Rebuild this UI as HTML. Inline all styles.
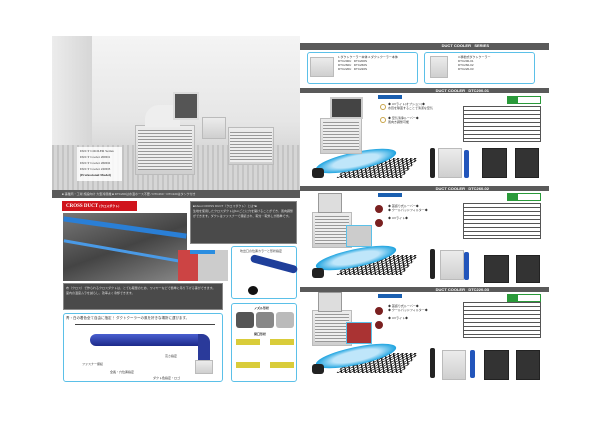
<!DOCTYPE html>
<html><head><meta charset="utf-8"><style>
*{margin:0;padding:0;box-sizing:border-box}
body{width:600px;height:424px;background:#fff;position:relative;overflow:hidden;font-family:"Liberation Sans","Noto Sans CJK JP",sans-serif}
div{position:absolute}
.bar{background:#5a5a5a;color:#fff;font-size:4px;font-weight:bold;text-align:right;padding-right:60px;line-height:6px}
.tb{background:#4a4a4a;color:#ddd;font-size:3px;line-height:5px;padding:2px;border:1px solid #888}
.bb{border:1px solid #5bc0e8;border-radius:3px;background:#fff}
.tx{font-size:3px;color:#333;line-height:4px}
.cool{background:linear-gradient(#ececec,#cfcfcf);border:1px solid #bbb}
.grill{background:repeating-linear-gradient(#999 0 1px,#eee 1px 3px)}
.tbl{background:repeating-linear-gradient(#fff 0 3px,#555 3px 4px);border:1px solid #555}
.grid{background:repeating-linear-gradient(45deg,#222 0 1px,transparent 1px 3px),repeating-linear-gradient(-45deg,#222 0 1px,#fff 1px 3px);transform:skewX(-40deg)}
.spray{background:radial-gradient(ellipse at 50% 50%,#bfe6fa 0 40%,#1fa4e0 70%);border-radius:50%;transform:rotate(-12deg)}
</style></head><body>
<!-- left photo -->
<div style="left:52px;top:36px;width:248px;height:154px;background:linear-gradient(180deg,#f4f4f4 0%,#e6e6e6 55%,#c4c4c4 100%)"></div>
<div style="left:52px;top:36px;width:40px;height:154px;background:linear-gradient(90deg,#ececec,#d6d6d6)"></div>
<div style="left:52px;top:145px;width:248px;height:45px;background:repeating-linear-gradient(90deg,#c4c4c4 0 2px,#d6d6d6 2px 5px)"></div>
<div class="cool" style="left:135px;top:125px;width:60px;height:50px"></div>
<div class="grill" style="left:138px;top:130px;width:54px;height:40px"></div>
<div style="left:145px;top:105px;width:35px;height:22px;background:#eee;border-radius:14px 0 0 0"></div>
<div style="left:173px;top:92px;width:26px;height:28px;background:#555;border:2px solid #ddd"></div>
<div class="cool" style="left:228px;top:127px;width:46px;height:38px"></div>
<div class="grill" style="left:230px;top:132px;width:42px;height:30px"></div>
<div class="cool" style="left:202px;top:117px;width:24px;height:22px"></div>
<div style="left:77px;top:147px;width:45px;height:34px;background:rgba(255,255,255,.85);font-family:'Liberation Serif',serif;font-size:3.5px;line-height:6px;padding:1px 3px;color:#333">DUCT COOLER Series<br>DUCT Cooler 200D1<br>DUCT Cooler 260D2<br>DUCT Cooler 220D3<br><b>(Professional Model)</b></div>
<div style="left:52px;top:190px;width:248px;height:8px;background:#5a5a5a;color:#ddd;font-size:3px;line-height:8px;padding-left:10px">■ 事業所・工場 施設向け 大型冷風機 ■ DTC200は水温ホース不要 / DTC260・DTC220はタンク付き</div>
<!-- cross duct -->
<div style="left:62px;top:201px;width:75px;height:10px;background:#d0141c;color:#fff;font-family:'Liberation Serif',serif;font-size:5px;font-weight:bold;line-height:10px;padding-left:4px">CROSS DUCT <span style="font-size:3px">(クロスダクト)</span></div>
<div style="left:63px;top:213px;width:124px;height:68px;background:linear-gradient(160deg,#777,#444 50%,#888)"></div>
<div style="left:63px;top:225px;width:124px;height:5px;background:#2a7fd6;transform:rotate(8deg)"></div>
<div style="left:63px;top:250px;width:124px;height:3px;background:#4a9ae6;transform:rotate(10deg)"></div>
<div class="tb" style="left:190px;top:201px;width:107px;height:43px">■About CROSS DUCT（クロスダクト）とは?■<br>生地を使用したクロスダクトは1mごとに穴を開けることができ、風向調整ができます。ダクトはファスナーで接続され、取付・取外しが簡単です。</div>
<div style="left:178px;top:250px;width:50px;height:31px;background:linear-gradient(90deg,#c44 0 40%,#ccc 40%)"></div>
<div style="left:190px;top:250px;width:25px;height:4px;background:#2a8de0"></div>
<div class="tb" style="left:63px;top:283px;width:160px;height:27px">布（クロス）で作られるクロスダクトは、とても軽量のため、ワイヤーなどで簡単に吊り下げる事ができます。<br>室内の温度ムラを減らし、効率よく冷却できます。</div>
<div class="bb" style="left:63px;top:313px;width:160px;height:69px"></div>
<div class="tx" style="left:66px;top:316px;font-size:3.5px">青・白の着色全て自由に指定！ ダクトクーラーの風を好きな場所に運びます。</div>
<div style="left:75px;top:324px;width:140px;height:1px;background:#444"></div>
<div style="left:90px;top:334px;width:115px;height:12px;background:linear-gradient(#4a5fd0,#1c2a8a);border-radius:6px"></div>
<div style="left:198px;top:334px;width:12px;height:28px;background:#2a3a9a;border-radius:0 8px 0 0"></div>
<div class="cool" style="left:195px;top:360px;width:18px;height:14px"></div>
<div class="tx" style="left:82px;top:362px">ファスナー接続</div>
<div class="tx" style="left:110px;top:370px">全長・穴位置指定</div>
<div class="tx" style="left:153px;top:376px">ダクト色指定・ロゴ</div>
<div class="tx" style="left:165px;top:354px">高さ指定</div>
<div class="bb" style="left:231px;top:246px;width:66px;height:53px"></div>
<div class="tx" style="left:240px;top:249px">吹出口の位置カラーと形状指定</div>
<div style="left:250px;top:260px;width:48px;height:8px;background:#1f3f9a;border-radius:4px;transform:rotate(15deg)"></div>
<div style="left:248px;top:286px;width:10px;height:9px;background:#111;border-radius:50%"></div>
<div class="bb" style="left:231px;top:303px;width:66px;height:79px"></div>
<div class="tx" style="left:254px;top:306px;font-weight:bold">ノズル形状</div>
<div style="left:236px;top:312px;width:18px;height:16px;background:#555;border-radius:3px"></div>
<div style="left:256px;top:312px;width:18px;height:16px;background:#888;border-radius:3px"></div>
<div style="left:276px;top:312px;width:18px;height:16px;background:#bbb;border-radius:3px"></div>
<div class="tx" style="left:254px;top:332px;font-weight:bold">開口形状</div>
<div style="left:236px;top:339px;width:24px;height:6px;background:#d9cc3a"></div>
<div style="left:270px;top:339px;width:24px;height:6px;background:#d9cc3a"></div>
<div style="left:236px;top:362px;width:24px;height:6px;background:#d9cc3a"></div>
<div style="left:270px;top:362px;width:24px;height:6px;background:#d9cc3a"></div>
<!-- right page -->
<div class="bar" style="left:300px;top:43px;width:249px;height:7px">DUCT COOLER &nbsp; SERIES</div>
<div class="bb" style="left:307px;top:52px;width:111px;height:32px"></div>
<div class="cool" style="left:310px;top:57px;width:24px;height:20px"></div>
<div class="tx" style="left:338px;top:55px">1.ダクトクーラー本体 2.ダクトクーラー本体<br>DTC200U &nbsp; DTC200S<br>DTC260U &nbsp; DTC260S<br>DTC220U &nbsp; DTC220S</div>
<div class="bb" style="left:424px;top:52px;width:111px;height:32px"></div>
<div class="cool" style="left:430px;top:56px;width:18px;height:22px"></div>
<div class="tx" style="left:458px;top:55px">3.移動式ダクトクーラー<br>DTC200-01<br>DTC260-02<br>DTC220-03</div>
<div class="bar" style="left:300px;top:88px;width:249px;height:5px;line-height:5px">DUCT COOLER &nbsp; DTC200-01</div>
<div class="bar" style="left:300px;top:186px;width:249px;height:5px;line-height:5px">DUCT COOLER &nbsp; DTC260-02</div>
<div class="bar" style="left:300px;top:287px;width:249px;height:5px;line-height:5px">DUCT COOLER &nbsp; DTC220-03</div>
<!-- sections: grids & sprays -->
<div class="grid" style="left:345px;top:158px;width:65px;height:20px"></div>
<div class="grid" style="left:345px;top:255px;width:65px;height:20px"></div>
<div class="grid" style="left:345px;top:353px;width:65px;height:20px"></div>
<div class="spray" style="left:315px;top:152px;width:82px;height:18px"></div>
<div class="spray" style="left:315px;top:249px;width:82px;height:18px"></div>
<div class="spray" style="left:315px;top:347px;width:82px;height:18px"></div>
<div class="cool" style="left:320px;top:118px;width:42px;height:36px"></div><div class="grill" style="left:323px;top:122px;width:36px;height:28px"></div>
<div style="left:330px;top:97px;width:33px;height:22px;background:#444;border:2px solid #ccc"></div>
<div class="cool" style="left:312px;top:212px;width:40px;height:36px"></div><div class="grill" style="left:315px;top:216px;width:34px;height:28px"></div>
<div style="left:318px;top:193px;width:24px;height:20px;background:#ddd;border:1px solid #999"></div>
<div class="cool" style="left:312px;top:310px;width:40px;height:36px"></div><div class="grill" style="left:315px;top:314px;width:34px;height:28px"></div>
<div style="left:318px;top:292px;width:24px;height:20px;background:#ddd;border:1px solid #999"></div>
<div style="left:346px;top:225px;width:26px;height:22px;border:1px solid #5bc0e8;background:#ccc"></div>
<div style="left:346px;top:322px;width:26px;height:22px;border:1px solid #5bc0e8;background:#a33"></div>
<div style="left:378px;top:95px;width:24px;height:4px;background:#1a5fb0"></div>
<div style="left:378px;top:193px;width:24px;height:4px;background:#1a5fb0"></div>
<div style="left:378px;top:294px;width:24px;height:4px;background:#1a5fb0"></div>
<div class="tx" style="left:388px;top:102px">◆ UVライト(オプション)◆<br>水質を除菌することで清潔な空気</div>
<div class="tx" style="left:388px;top:116px">◆ 空気清浄ルーバー◆<br>風向き調整可能</div>
<div class="tx" style="left:388px;top:204px">◆ 首振り式ルーバー◆<br>◆ クールパッドフィルター◆<br><br>◆ UVライト◆</div>
<div class="tx" style="left:388px;top:304px">◆ 首振り式ルーバー◆<br>◆ クールパッドフィルター◆<br><br>◆ UVライト◆</div>
<div style="left:380px;top:104px;width:6px;height:6px;border:1px solid #c9a54a;border-radius:50%"></div>
<div style="left:380px;top:117px;width:6px;height:6px;border:1px solid #c9a54a;border-radius:50%"></div>
<div style="left:375px;top:205px;width:8px;height:8px;background:#7a2020;border-radius:50%"></div>
<div style="left:375px;top:219px;width:8px;height:8px;background:#7a2020;border-radius:50%"></div>
<div style="left:375px;top:307px;width:8px;height:8px;background:#7a2020;border-radius:50%"></div>
<div style="left:375px;top:321px;width:8px;height:8px;background:#7a2020;border-radius:50%"></div>
<div style="left:312px;top:168px;width:12px;height:10px;background:#222;border-radius:3px"></div>
<div style="left:312px;top:268px;width:12px;height:10px;background:#222;border-radius:3px"></div>
<div style="left:312px;top:364px;width:12px;height:10px;background:#222;border-radius:3px"></div>
<!-- green logos and tables -->
<div style="left:507px;top:96px;width:34px;height:8px;border:1px solid #2a9a3a;background:#fff"><div style="left:0;top:0;width:10px;height:6px;background:#2a9a3a"></div></div>
<div style="left:507px;top:193px;width:34px;height:8px;border:1px solid #2a9a3a;background:#fff"><div style="left:0;top:0;width:10px;height:6px;background:#2a9a3a"></div></div>
<div style="left:507px;top:294px;width:34px;height:8px;border:1px solid #2a9a3a;background:#fff"><div style="left:0;top:0;width:10px;height:6px;background:#2a9a3a"></div></div>
<div class="tbl" style="left:463px;top:106px;width:78px;height:36px"></div>
<div class="tbl" style="left:463px;top:203px;width:78px;height:36px"></div>
<div class="tbl" style="left:463px;top:302px;width:78px;height:36px"></div>
<!-- people and drawings -->
<div style="left:430px;top:148px;width:5px;height:30px;background:#222;border-radius:2px"></div>
<div class="cool" style="left:438px;top:148px;width:24px;height:30px"></div>
<div style="left:464px;top:150px;width:5px;height:28px;background:#2255bb;border-radius:2px"></div>
<div style="left:482px;top:148px;width:25px;height:30px;border:1px solid #222;background:#333"></div>
<div style="left:515px;top:148px;width:24px;height:30px;border:1px solid #222;background:#333"></div>
<div style="left:430px;top:249px;width:5px;height:30px;background:#222;border-radius:2px"></div>
<div class="cool" style="left:440px;top:250px;width:24px;height:30px"></div>
<div style="left:464px;top:252px;width:5px;height:28px;background:#2255bb;border-radius:2px"></div>
<div style="left:484px;top:255px;width:25px;height:28px;border:1px solid #222;background:#333"></div>
<div style="left:516px;top:255px;width:24px;height:28px;border:1px solid #222;background:#333"></div>
<div style="left:430px;top:348px;width:5px;height:30px;background:#222;border-radius:2px"></div>
<div class="cool" style="left:442px;top:350px;width:24px;height:30px"></div>
<div style="left:470px;top:350px;width:5px;height:28px;background:#2255bb;border-radius:2px"></div>
<div style="left:484px;top:350px;width:25px;height:30px;border:1px solid #222;background:#333"></div>
<div style="left:516px;top:350px;width:24px;height:30px;border:1px solid #222;background:#333"></div>
</body></html>
